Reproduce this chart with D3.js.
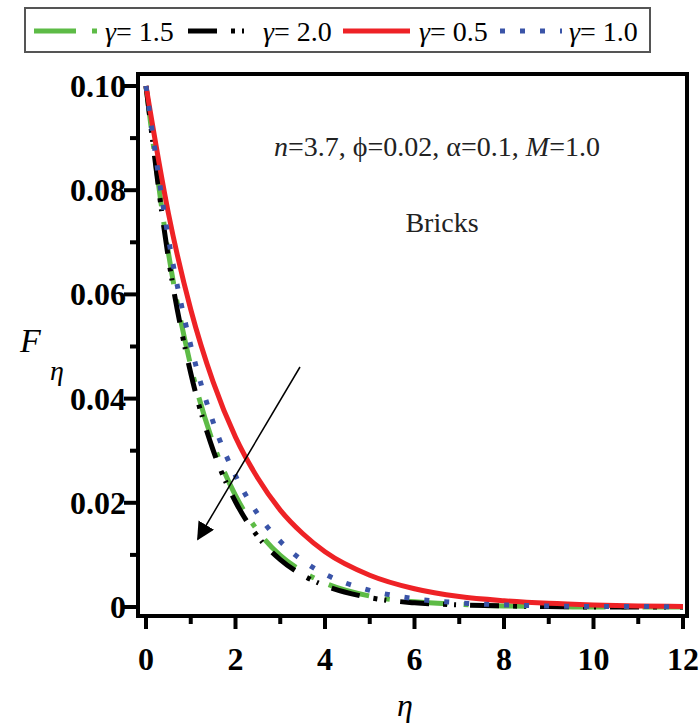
<!DOCTYPE html>
<html>
<head>
<meta charset="utf-8">
<script src="https://cdn.jsdelivr.net/npm/d3@7"></script>
<style>
  body { margin: 0; background: #fff; }
  text { font-family: "Liberation Serif", "Times New Roman", serif; }
</style>
</head>
<body>
<div id="chart"></div>
<script>
const etaValues = [0, 0.5, 1, 1.5, 2, 2.5, 3, 3.5, 4, 5, 6, 7, 8, 9, 10, 11, 12];

// F_eta for each gamma
const fGamma05 = [0.100, 0.0756, 0.0571, 0.0432, 0.0326, 0.0247, 0.0186, 0.0141, 0.0106, 0.0061, 0.0035, 0.0020, 0.0012, 0.0007, 0.0004, 0.0002, 0.0001];
const fGamma10 = [0.100, 0.0708, 0.0502, 0.0355, 0.0252, 0.0178, 0.0126, 0.0089, 0.0063, 0.0032, 0.0016, 0.0008, 0.0004, 0.0002, 0.0001, 0.0001, 0.0000];
const fGamma15 = [0.100, 0.0680, 0.0463, 0.0315, 0.0214, 0.0146, 0.0099, 0.0068, 0.0046, 0.0021, 0.0010, 0.0005, 0.0002, 0.0001, 0.0000, 0.0000, 0.0000];
const fGamma20 = [0.100, 0.0670, 0.0449, 0.0301, 0.0202, 0.0135, 0.0091, 0.0061, 0.0041, 0.0018, 0.0008, 0.0004, 0.0002, 0.0001, 0.0000, 0.0000, 0.0000];

const xTicks = [0, 2, 4, 6, 8, 10, 12];
const yTicks = [0, 0.02, 0.04, 0.06, 0.08, 0.10];
const yTickLabels = ['0', '0.02', '0.04', '0.06', '0.08', '0.10'];

// legend order as in the picture
const legendLabels = ['1.5', '2.0', '0.5', '1.0'];

const width = 700;
const height = 727;

const svg = d3.select('#chart')
  .append('svg')
  .attr('width', width)
  .attr('height', height);

// scales
const x = d3.scaleLinear().domain([0, 12]).range([146, 683]);
const y = d3.scaleLinear().domain([0, 0.1]).range([607, 86]);

// frame
const frame = { left: 138, right: 687, top: 74, bottom: 616 };

// series, drawn in the order they stack in the picture
const series = [
  { name: '1.5', values: fGamma15, color: '#5dbb46', dash: '42,16,5,16', width: 5 },
  { name: '2.0', values: fGamma20, color: '#000000', dash: '29,14,4,7,2,14', width: 5 },
  { name: '0.5', values: fGamma05, color: '#ee2226', dash: null, width: 5 },
  { name: '1.0', values: fGamma10, color: '#3a54a8', dash: '5,15', width: 5 }
];

const line = d3.line()
  .x((d, i) => x(etaValues[i]))
  .y(d => y(d))
  .curve(d3.curveMonotoneX);

const plot = svg.append('g').attr('class', 'curves');
plot.selectAll('path')
  .data(series)
  .enter()
  .append('path')
  .attr('d', d => line(d.values))
  .attr('fill', 'none')
  .attr('stroke', d => d.color)
  .attr('stroke-width', d => d.width)
  .attr('stroke-dasharray', d => d.dash);

// frame box
svg.append('rect')
  .attr('x', frame.left)
  .attr('y', frame.top)
  .attr('width', frame.right - frame.left)
  .attr('height', frame.bottom - frame.top)
  .attr('fill', 'none')
  .attr('stroke', '#000')
  .attr('stroke-width', 4);

// x axis ticks (major + minor) below the frame
const xAxis = svg.append('g').attr('class', 'x-axis');
d3.range(0, 13, 1).forEach(v => {
  const major = v % 2 === 0;
  xAxis.append('line')
    .attr('x1', x(v)).attr('x2', x(v))
    .attr('y1', frame.bottom).attr('y2', frame.bottom + (major ? 13 : 8))
    .attr('stroke', '#000')
    .attr('stroke-width', 4);
});
xAxis.selectAll('text')
  .data(xTicks)
  .enter()
  .append('text')
  .attr('x', d => x(d))
  .attr('y', 670)
  .attr('text-anchor', 'middle')
  .attr('font-size', 32)
  .attr('font-weight', 'bold')
  .text(d => d);

// y axis ticks left of the frame
const yAxis = svg.append('g').attr('class', 'y-axis');
d3.range(0, 11, 1).forEach(k => {
  const v = k * 0.01;
  const major = k % 2 === 0;
  yAxis.append('line')
    .attr('x1', frame.left).attr('x2', frame.left - (major ? 14 : 8))
    .attr('y1', y(v)).attr('y2', y(v))
    .attr('stroke', '#000')
    .attr('stroke-width', 4);
});
yAxis.selectAll('text')
  .data(yTicks)
  .enter()
  .append('text')
  .attr('x', 126)
  .attr('y', d => y(d) + 11)
  .attr('text-anchor', 'end')
  .attr('font-size', 32)
  .attr('font-weight', 'bold')
  .text((d, i) => yTickLabels[i]);

// axis titles
svg.append('text')
  .attr('x', 405).attr('y', 716)
  .attr('text-anchor', 'middle')
  .attr('font-size', 32)
  .attr('font-style', 'italic')
  .text('η');

const yTitle = svg.append('text')
  .attr('x', 20).attr('y', 352)
  .attr('font-size', 34)
  .attr('font-style', 'italic');
yTitle.append('tspan').text('F');
yTitle.append('tspan').attr('x', 50).attr('y', 380).attr('font-size', 28).text('η');

// annotation
const note = svg.append('text')
  .attr('x', 437).attr('y', 156)
  .attr('text-anchor', 'middle')
  .attr('font-size', 28)
  .attr('fill', '#222');
note.append('tspan').attr('font-style', 'italic').text('n');
note.append('tspan').text('=3.7, ϕ=0.02, α=0.1, ');
note.append('tspan').attr('font-style', 'italic').text('M');
note.append('tspan').text('=1.0');

svg.append('text')
  .attr('x', 442).attr('y', 232)
  .attr('text-anchor', 'middle')
  .attr('font-size', 28)
  .attr('fill', '#222')
  .text('Bricks');

// arrow pointing toward increasing gamma
svg.append('defs').append('marker')
  .attr('id', 'head')
  .attr('viewBox', '0 0 10 10')
  .attr('refX', 9).attr('refY', 5)
  .attr('markerWidth', 18).attr('markerHeight', 18)
  .attr('markerUnits', 'userSpaceOnUse')
  .attr('orient', 'auto')
  .append('path')
  .attr('d', 'M0,0 L10,5 L0,10 Z')
  .attr('fill', '#000');

svg.append('line')
  .attr('x1', 300).attr('y1', 367)
  .attr('x2', 198).attr('y2', 539)
  .attr('stroke', '#000')
  .attr('stroke-width', 1.5)
  .attr('marker-end', 'url(#head)');

// legend
const legend = svg.append('g').attr('class', 'legend');
legend.append('rect')
  .attr('x', 25).attr('y', 8)
  .attr('width', 625).attr('height', 44)
  .attr('fill', '#fff')
  .attr('stroke', '#555')
  .attr('stroke-width', 2);

const legendItems = [
  { s: series[0], x0: 34, x1: 98, tx: 105 },
  { s: series[1], x0: 188, x1: 246, tx: 263 },
  { s: series[2], x0: 343, x1: 410, tx: 419 },
  { s: series[3], x0: 500, x1: 562, tx: 569 }
];

legendItems.forEach((d, i) => {
  legend.append('line')
    .attr('x1', d.x0).attr('x2', d.x1)
    .attr('y1', 31).attr('y2', 31)
    .attr('stroke', d.s.color)
    .attr('stroke-width', 5)
    .attr('stroke-dasharray', d.s.dash);
  const t = legend.append('text')
    .attr('x', d.tx).attr('y', 41)
    .attr('font-size', 28);
  t.append('tspan').attr('font-style', 'italic').text('γ');
  t.append('tspan').text('= ' + legendLabels[i]);
});
</script>
</body>
</html>
